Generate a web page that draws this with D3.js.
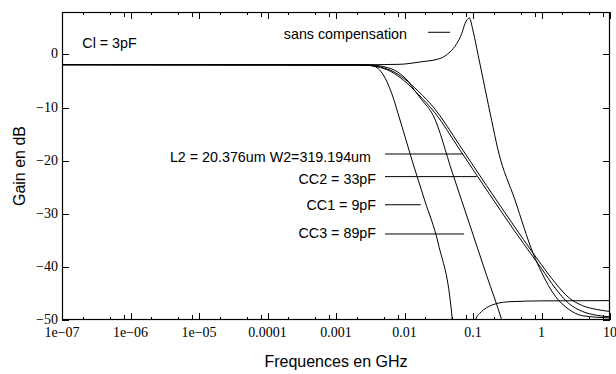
<!DOCTYPE html>
<html>
<head>
<meta charset="utf-8">
<script src="https://cdnjs.cloudflare.com/ajax/libs/d3/7.8.5/d3.min.js"></script>
<style>
  body { margin: 0; background: #fff; }
  .tick-label { font-family: "Liberation Serif", "DejaVu Serif", serif; font-size: 14px; }
  .title { font-family: "Liberation Sans", Arial, sans-serif; font-size: 16px; }
  .note { font-family: "Liberation Sans", Arial, sans-serif; font-size: 14.3px; }
</style>
</head>
<body>
<div id="chart"></div>
<script>
// tick values and labels
var xTicks = [1e-7, 1e-6, 1e-5, 1e-4, 1e-3, 1e-2, 1e-1, 1, 10];
var xTickLabels = ["1e\u221207", "1e\u221206", "1e\u221205", "0.0001", "0.001", "0.01", "0.1", "1", "10"];
var yTicks = [-50, -40, -30, -20, -10, 0];
var yTickLabels = ["\u221250", "\u221240", "\u221230", "\u221220", "\u221210", "0"];

// curves: [frequency GHz, gain dB]
var sansCompensation = [
  [1e-7, -1.92], [0.00398, -1.92], [0.0086, -1.85], [0.0168, -1.41], [0.033, -0.76],
  [0.0461, 0.47], [0.0578, 2.03], [0.0684, 3.92], [0.0764, 5.8], [0.0883, 6.87],
  [0.101, 4.24], [0.119, -0.15], [0.15, -6.44], [0.187, -12.39], [0.232, -17.99],
  [0.41, -27.4], [0.752, -37.4], [1, -41], [1.585, -45.5], [2.51, -48], [3.98, -49.2], [10, -49.6]
];
var cc1 = [
  [1e-7, -1.92], [0.00251, -1.95], [0.00351, -2.17], [0.00491, -3.86], [0.0065, -7.31],
  [0.0086, -12.34], [0.01285, -19.87], [0.01963, -27.4], [0.0312, -35.69], [0.0499, -50],
  [0.054, -60], [0.098, -60], [0.1035, -52], [0.1094, -49.9], [0.1265, -48.7], [0.158, -47.7],
  [0.222, -46.9], [0.347, -46.55], [1, -46.4], [10, -46.35]
];
var cc3 = [
  [1e-7, -1.92], [0.00316, -2.0], [0.00501, -2.3], [0.00794, -3.3], [0.01122, -5.0],
  [0.01413, -6.8], [0.01778, -8.5], [0.0263, -11.5], [0.0501, -22.3], [0.1, -33.9],
  [0.158, -41.6], [0.2624, -50], [0.355, -56]
];
var l2w2 = [
  [1e-7, -1.92], [0.00251, -1.98], [0.00398, -2.25], [0.00631, -3.0], [0.01, -4.6],
  [0.01585, -6.9], [0.0279, -10.3], [0.0631, -17.0], [0.158, -24.7], [0.398, -32.3],
  [0.752, -37.4], [1, -39.6], [1.585, -43.0], [2.51, -45.8], [3.98, -47.3], [6.31, -48.0], [10, -48.4]
];
var cc2 = [
  [1e-7, -1.92], [0.00251, -1.98], [0.00398, -2.3], [0.00631, -3.2], [0.01, -5.0],
  [0.01585, -7.5], [0.0279, -11.0], [0.0631, -17.8], [0.158, -25.5], [0.398, -33.1],
  [0.752, -38.1], [1, -40.3], [1.585, -44.0], [2.51, -46.9], [3.98, -48.4], [6.31, -49.1], [10, -49.4]
];

// labels with their pointer lines (x in GHz, y in dB)
var notes = [
  {text: "sans compensation", tx: 0.01087, ty: 2.9, x1: 0.022, x2: 0.0461, y: 4.18},
  {text: "L2 = 20.376um W2=319.194um", tx: 0.00324, ty: -20.2, x1: 0.00519, x2: 0.0714, y: -18.74},
  {text: "CC2 = 33pF", tx: 0.00384, ty: -24.3, x1: 0.00519, x2: 0.113, y: -23.0},
  {text: "CC1 = 9pF", tx: 0.00384, ty: -29.2, x1: 0.00519, x2: 0.01726, y: -28.3},
  {text: "CC3 = 89pF", tx: 0.00384, ty: -34.6, x1: 0.00519, x2: 0.074, y: -33.8}
];

var W = 616, H = 374;
var margin = {top: 12, right: 6, bottom: 54, left: 62},
    width = W - margin.left - margin.right,
    height = H - margin.top - margin.bottom;

var svg = d3.select("#chart").append("svg")
    .attr("width", W)
    .attr("height", H)
    .style("display", "block");

var g = svg.append("g")
    .attr("transform", "translate(" + margin.left + "," + margin.top + ")");

var x = d3.scaleLog().domain([1e-7, 10]).range([0, width]);
var y = d3.scaleLinear().domain([-50, 8]).range([height, 0]);

// clip
g.append("clipPath").attr("id", "clip")
  .append("rect").attr("width", width).attr("height", height);

// minor x ticks at 2, 5 and 8 in every decade
var minor = [];
xTicks.slice(0, -1).forEach(function(t) {
  [2, 5].forEach(function(m) { minor.push({v: t * m, len: 3}); });
  minor.push({v: t * 8, len: 5});
});

var ticks = g.append("g").attr("stroke", "#000").attr("stroke-width", 1);
xTicks.forEach(function(t) {
  var px = Math.round(x(t)) + 0.5;
  ticks.append("line").attr("x1", px).attr("x2", px).attr("y1", height).attr("y2", height - 7);
  ticks.append("line").attr("x1", px).attr("x2", px).attr("y1", 0).attr("y2", 7);
});
minor.forEach(function(m) {
  var px = Math.round(x(m.v)) + 0.5;
  ticks.append("line").attr("x1", px).attr("x2", px).attr("y1", height).attr("y2", height - m.len);
  ticks.append("line").attr("x1", px).attr("x2", px).attr("y1", 0).attr("y2", m.len);
});
yTicks.forEach(function(t) {
  var py = Math.round(y(t)) + 0.5;
  ticks.append("line").attr("x1", 0).attr("x2", 7).attr("y1", py).attr("y2", py);
  ticks.append("line").attr("x1", width).attr("x2", width - 7).attr("y1", py).attr("y2", py);
});

// tick labels
g.selectAll(".xl").data(xTicks).enter().append("text")
  .attr("class", "tick-label")
  .attr("x", function(d) { return x(d); })
  .attr("y", height + 17)
  .attr("text-anchor", "middle")
  .text(function(d, i) { return xTickLabels[i]; });

g.selectAll(".yl").data(yTicks).enter().append("text")
  .attr("class", "tick-label")
  .attr("x", -4)
  .attr("y", function(d) { return y(d) + 4; })
  .attr("text-anchor", "end")
  .text(function(d, i) { return yTickLabels[i]; });

// curves
var line = d3.line()
  .x(function(d) { return x(d[0]); })
  .y(function(d) { return y(d[1]); })
  .curve(d3.curveMonotoneX);

var curves = g.append("g").attr("clip-path", "url(#clip)");
[sansCompensation, cc1, cc3, l2w2, cc2].forEach(function(c) {
  curves.append("path")
    .datum(c)
    .attr("d", line)
    .attr("fill", "none")
    .attr("stroke", "#000")
    .attr("stroke-width", 1);
});

// frame
g.append("rect")
  .attr("x", 0.5).attr("y", 0.5)
  .attr("width", width - 1).attr("height", height - 1)
  .attr("fill", "none").attr("stroke", "#000").attr("stroke-width", 1.2);

// notes
g.append("text").attr("class", "note")
  .attr("x", x(1.98e-7)).attr("y", y(1.17))
  .text("Cl = 3pF");

notes.forEach(function(n) {
  g.append("text").attr("class", "note")
    .attr("x", x(n.tx)).attr("y", y(n.ty))
    .attr("text-anchor", "end")
    .text(n.text);
  g.append("line")
    .attr("x1", x(n.x1)).attr("x2", x(n.x2))
    .attr("y1", y(n.y)).attr("y2", y(n.y))
    .attr("stroke", "#000").attr("stroke-width", 1);
});

// axis titles
svg.append("text").attr("class", "title")
  .attr("transform", "translate(25," + (margin.top + height / 2) + ") rotate(-90)")
  .attr("text-anchor", "middle")
  .text("Gain en dB");

svg.append("text").attr("class", "title")
  .attr("x", margin.left + width / 2)
  .attr("y", 367)
  .attr("text-anchor", "middle")
  .text("Frequences en GHz");
</script>
</body>
</html>
